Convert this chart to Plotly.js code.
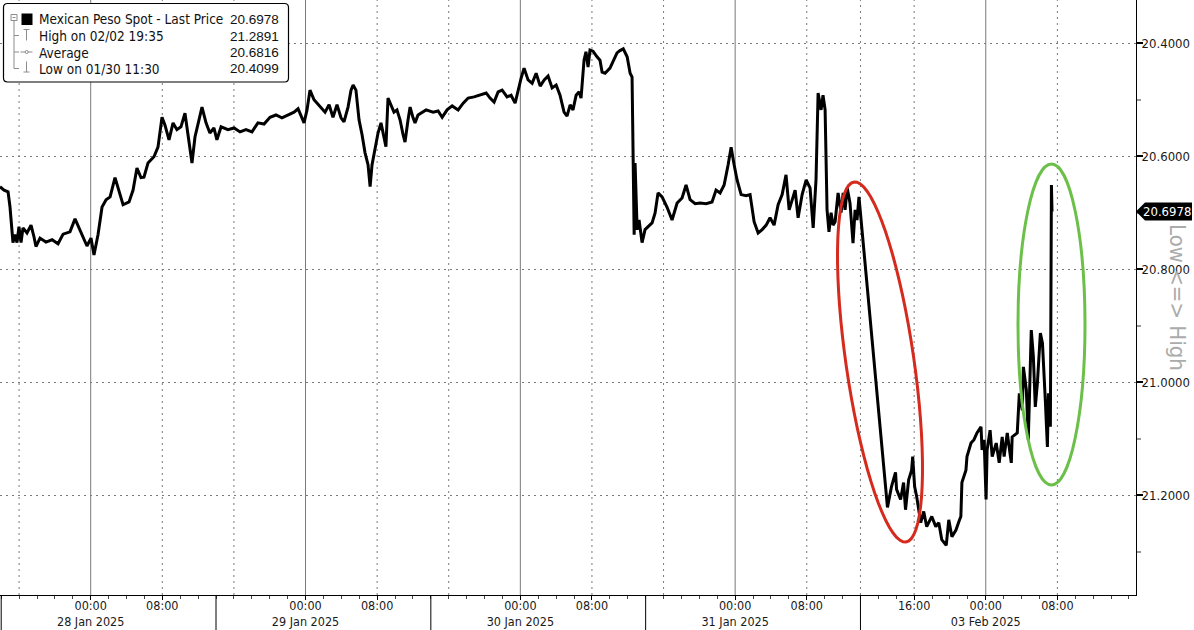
<!DOCTYPE html>
<html>
<head>
<meta charset="utf-8">
<script src="https://cdn.plot.ly/plotly-3.0.1.min.js"></script>
<style>html,body{margin:0;padding:0;background:#fff;}#chart{width:1194px;height:630px;}</style>
</head>
<body>
<div id="chart"></div>
<script>
// ---------------- DATA ----------------
const times = [
"2025-01-27 13:52","2025-01-27 14:19","2025-01-27 14:46","2025-01-27 14:59","2025-01-27 15:19","2025-01-27 15:32","2025-01-27 15:46","2025-01-27 15:59",
"2025-01-27 16:13","2025-01-27 16:26","2025-01-27 16:53","2025-01-27 17:20","2025-01-27 17:40","2025-01-27 17:53","2025-01-27 18:20","2025-01-27 19:00",
"2025-01-27 19:41","2025-01-27 20:21","2025-01-27 20:55","2025-01-27 21:41","2025-01-27 22:15","2025-01-27 22:41","2025-01-27 23:08","2025-01-27 23:35",
"2025-01-28 00:02","2025-01-28 00:22","2025-01-28 00:49","2025-01-28 01:16","2025-01-28 01:43","2025-01-28 02:10","2025-01-28 02:43","2025-01-28 03:10",
"2025-01-28 03:37","2025-01-28 04:17","2025-01-28 04:44","2025-01-28 05:10","2025-01-28 05:37","2025-01-28 05:57","2025-01-28 06:24","2025-01-28 07:04",
"2025-01-28 07:31","2025-01-28 07:58","2025-01-28 08:18","2025-01-28 08:45","2025-01-28 09:12","2025-01-28 09:38","2025-01-28 10:05","2025-01-28 10:32",
"2025-01-28 10:59","2025-01-28 11:19","2025-01-28 11:39","2025-01-28 12:06","2025-01-28 12:26","2025-01-28 12:53","2025-01-28 13:19","2025-01-28 13:46",
"2025-01-28 14:06","2025-01-28 14:34","2025-01-28 15:20","2025-01-28 16:01","2025-01-28 16:41","2025-01-28 17:21","2025-01-28 18:01","2025-01-28 18:41",
"2025-01-28 19:22","2025-01-28 20:02","2025-01-28 20:42","2025-01-28 21:22","2025-01-28 22:03","2025-01-28 22:43","2025-01-28 23:10","2025-01-28 23:50",
"2025-01-29 00:10","2025-01-29 00:30","2025-01-29 00:57","2025-01-29 01:24","2025-01-29 01:51","2025-01-29 02:11","2025-01-29 02:38","2025-01-29 03:04",
"2025-01-29 03:31","2025-01-29 03:58","2025-01-29 04:18","2025-01-29 04:45","2025-01-29 05:05","2025-01-29 05:19","2025-01-29 05:38","2025-01-29 05:59",
"2025-01-29 06:19","2025-01-29 06:39","2025-01-29 06:59","2025-01-29 07:13","2025-01-29 07:26","2025-01-29 07:46","2025-01-29 08:06","2025-01-29 08:26",
"2025-01-29 08:46","2025-01-29 08:59","2025-01-29 09:13","2025-01-29 09:33","2025-01-29 09:53","2025-01-29 10:13","2025-01-29 10:34","2025-01-29 10:54",
"2025-01-29 11:07","2025-01-29 11:27","2025-01-29 11:41","2025-01-29 12:01","2025-01-29 12:14","2025-01-29 12:34","2025-01-29 12:55","2025-01-29 13:28",
"2025-01-29 14:15","2025-01-29 14:49","2025-01-29 15:16","2025-01-29 15:49","2025-01-29 16:23","2025-01-29 17:03","2025-01-29 17:37","2025-01-29 18:10",
"2025-01-29 18:50","2025-01-29 19:31","2025-01-29 20:11","2025-01-29 20:37","2025-01-29 21:04","2025-01-29 21:31","2025-01-29 21:58","2025-01-29 22:31",
"2025-01-29 22:58","2025-01-29 23:25","2025-01-29 23:45","2025-01-30 00:05","2025-01-30 00:25","2025-01-30 00:52","2025-01-30 01:19","2025-01-30 01:46",
"2025-01-30 02:13","2025-01-30 02:40","2025-01-30 03:06","2025-01-30 03:33","2025-01-30 04:00","2025-01-30 04:26","2025-01-30 04:53","2025-01-30 05:13",
"2025-01-30 05:34","2025-01-30 05:53","2025-01-30 06:14","2025-01-30 06:34","2025-01-30 06:47","2025-01-30 07:07","2025-01-30 07:20","2025-01-30 07:34",
"2025-01-30 07:47","2025-01-30 08:07","2025-01-30 08:34","2025-01-30 08:54","2025-01-30 09:08","2025-01-30 09:28","2025-01-30 10:01","2025-01-30 10:22",
"2025-01-30 10:48","2025-01-30 11:08","2025-01-30 11:30","2025-01-30 11:56","2025-01-30 12:16","2025-01-30 12:29","2025-01-30 12:36","2025-01-30 12:43",
"2025-01-30 12:49","2025-01-30 13:03","2025-01-30 13:16","2025-01-30 13:36","2025-01-30 13:56","2025-01-30 14:23","2025-01-30 14:43","2025-01-30 15:03",
"2025-01-30 15:23","2025-01-30 15:50","2025-01-30 16:23","2025-01-30 16:57","2025-01-30 17:31","2025-01-30 18:04","2025-01-30 18:31","2025-01-30 18:58",
"2025-01-30 19:32","2025-01-30 20:05","2025-01-30 20:45","2025-01-30 21:25","2025-01-30 21:52","2025-01-30 22:19","2025-01-30 22:46","2025-01-30 23:13",
"2025-01-30 23:33","2025-01-30 23:53","2025-01-31 00:13","2025-01-31 00:40","2025-01-31 01:13","2025-01-31 01:40","2025-01-31 02:07","2025-01-31 02:34",
"2025-01-31 03:01","2025-01-31 03:28","2025-01-31 03:54","2025-01-31 04:21","2025-01-31 04:48","2025-01-31 05:15","2025-01-31 05:41","2025-01-31 06:02",
"2025-01-31 06:22","2025-01-31 06:42","2025-01-31 07:02","2025-01-31 07:29","2025-01-31 07:56","2025-01-31 08:22","2025-01-31 08:43","2025-01-31 09:02",
"2025-01-31 09:16","2025-01-31 09:36","2025-01-31 09:49","2025-01-31 10:03","2025-01-31 10:16","2025-01-31 10:29","2025-01-31 10:43","2025-01-31 10:56",
"2025-01-31 11:10","2025-01-31 11:30","2025-01-31 11:50","2025-01-31 12:04","2025-01-31 12:17","2025-01-31 12:31","2025-01-31 12:50","2025-01-31 13:04",
"2025-01-31 13:10","2025-01-31 13:24","2025-01-31 13:37","2025-01-31 13:50",
"2025-02-02 13:01","2025-02-02 13:28","2025-02-02 13:55","2025-02-02 14:02","2025-02-02 14:29","2025-02-02 14:49","2025-02-02 15:02","2025-02-02 15:23",
"2025-02-02 15:43","2025-02-02 15:50","2025-02-02 16:03","2025-02-02 16:17","2025-02-02 16:44","2025-02-02 17:04","2025-02-02 17:24","2025-02-02 17:58",
"2025-02-02 18:25","2025-02-02 18:45","2025-02-02 19:05","2025-02-02 19:35","2025-02-02 19:52","2025-02-02 20:13","2025-02-02 20:40","2025-02-02 21:00",
"2025-02-02 21:13","2025-02-02 21:20","2025-02-02 21:47","2025-02-02 21:54","2025-02-02 22:21","2025-02-02 22:41","2025-02-02 23:01","2025-02-02 23:28",
"2025-02-02 23:35","2025-02-02 23:49","2025-02-03 00:02","2025-02-03 00:09","2025-02-03 00:29","2025-02-03 00:43","2025-02-03 01:10","2025-02-03 01:30",
"2025-02-03 01:50","2025-02-03 02:03","2025-02-03 02:24","2025-02-03 02:51","2025-02-03 02:57","2025-02-03 03:31","2025-02-03 03:45","2025-02-03 04:05",
"2025-02-03 04:12","2025-02-03 04:32","2025-02-03 04:45","2025-02-03 05:05","2025-02-03 05:19","2025-02-03 05:32","2025-02-03 05:46","2025-02-03 06:06",
"2025-02-03 06:20","2025-02-03 06:40","2025-02-03 06:53","2025-02-03 07:00","2025-02-03 07:13","2025-02-03 07:20","2025-02-03 07:24"
];
const prices = [
20.654,20.660,20.663,20.690,20.753,20.739,20.753,20.725,
20.753,20.727,20.736,20.722,20.743,20.760,20.745,20.752,
20.748,20.755,20.738,20.734,20.711,20.727,20.745,20.759,
20.745,20.775,20.739,20.690,20.677,20.672,20.638,20.660,
20.686,20.681,20.660,20.621,20.638,20.637,20.612,20.601,
20.584,20.531,20.545,20.571,20.541,20.553,20.548,20.524,
20.571,20.612,20.566,20.532,20.513,20.541,20.559,20.550,
20.571,20.548,20.553,20.550,20.557,20.553,20.557,20.541,
20.543,20.531,20.527,20.532,20.527,20.522,20.516,20.541,
20.518,20.483,20.500,20.508,20.515,20.522,20.509,20.531,
20.509,20.532,20.539,20.513,20.483,20.474,20.483,20.536,
20.562,20.594,20.615,20.654,20.615,20.585,20.559,20.541,
20.571,20.583,20.497,20.509,20.522,20.518,20.536,20.562,
20.575,20.536,20.513,20.532,20.541,20.527,20.524,20.518,
20.522,20.520,20.531,20.518,20.511,20.518,20.506,20.497,
20.495,20.492,20.488,20.497,20.504,20.486,20.483,20.495,
20.492,20.506,20.483,20.462,20.444,20.465,20.471,20.453,
20.476,20.465,20.458,20.479,20.474,20.492,20.522,20.529,
20.509,20.518,20.492,20.486,20.497,20.430,20.415,20.442,
20.412,20.414,20.424,20.430,20.451,20.453,20.444,20.433,
20.417,20.413,20.4099,20.424,20.453,20.460,20.612,20.739,
20.612,20.730,20.713,20.753,20.730,20.724,20.718,20.701,
20.665,20.672,20.690,20.713,20.683,20.674,20.651,20.677,
20.684,20.683,20.684,20.681,20.660,20.665,20.651,20.615,
20.584,20.615,20.642,20.668,20.670,20.668,20.716,20.736,
20.730,20.722,20.709,20.722,20.686,20.668,20.633,20.695,
20.677,20.660,20.709,20.668,20.642,20.656,20.727,20.642,
20.488,20.518,20.492,20.518,20.695,20.734,20.700,20.722,
20.716,20.665,20.700,20.665,20.695,20.656,20.683,20.736,
20.754,20.695,20.713,20.672,
21.222,21.185,21.160,21.190,21.208,21.178,21.226,21.173,
21.156,21.132,21.185,21.203,21.249,21.229,21.256,21.238,
21.256,21.249,21.279,21.2891,21.244,21.274,21.262,21.247,
21.238,21.178,21.156,21.132,21.108,21.102,21.090,21.079,
21.120,21.102,21.208,21.120,21.085,21.132,21.108,21.143,
21.097,21.132,21.090,21.143,21.097,21.090,21.020,21.050,
20.973,21.014,21.102,20.908,20.955,21.044,21.002,20.913,
20.931,21.037,21.115,21.020,21.079,20.651,20.6978
];

const xTickVals = ["2025-01-28 00:00","2025-01-28 08:00","2025-01-29 00:00","2025-01-29 08:00","2025-01-30 00:00","2025-01-30 08:00",
                   "2025-01-31 00:00","2025-01-31 08:00","2025-02-02 16:00","2025-02-03 00:00","2025-02-03 08:00"];
const xTickText = ["00:00<br>28 Jan 2025","08:00","00:00<br>29 Jan 2025","08:00","00:00<br>30 Jan 2025","08:00",
                   "00:00<br>31 Jan 2025","08:00","16:00","00:00<br>03 Feb 2025","08:00"];
const yTickVals = [20.4, 20.6, 20.8, 21.0, 21.2];

const solidGridTimes = ["2025-01-28 00:00","2025-01-29 00:00","2025-01-30 00:00","2025-01-31 00:00","2025-02-03 00:00"];
const dottedGridTimes = ["2025-01-27 16:00","2025-01-28 08:00","2025-01-28 16:00","2025-01-29 08:00","2025-01-29 16:00",
                         "2025-01-30 08:00","2025-01-30 16:00","2025-01-31 08:00","2025-01-31 13:59:59","2025-02-02 16:00","2025-02-03 08:00"];
const sessionBreakTimes = ["2025-01-27 14:00","2025-01-28 14:00","2025-01-29 14:00","2025-01-30 14:00","2025-01-31 13:59:59"];
const weekendGap = ["2025-01-31 14:00","2025-02-02 10:00"];

const legendLabels = ["Mexican Peso Spot - Last Price","High on 02/02 19:35","Average","Low on 01/30 11:30"];
const legendValues = ["20.6978","21.2891","20.6816","20.4099"];
const lastPriceLabel = "20.6978";
const sideLabel = "Low <=> High";

// ---------------- LAYOUT HELPERS ----------------
const FONT = '"DejaVu Sans Condensed", "Liberation Sans", Arial, sans-serif';
const NUMFONT = '"Liberation Sans", Arial, sans-serif';
const M = {l:0, r:58, t:0, b:35};
const PW = 1194 - M.l - M.r, PH = 630 - M.t - M.b;
const px = x => (x - M.l) / PW;
const py = y => 1 - (y - M.t) / PH;
const YR = [21.377, 20.3234];

const shapes = [];
solidGridTimes.forEach(t => shapes.push({type:'line', xref:'x', yref:'paper', x0:t, x1:t, y0:0, y1:1, layer:'below',
  line:{color:'#7a7a7a', width:1}}));
dottedGridTimes.forEach(t => shapes.push({type:'line', xref:'x', yref:'paper', x0:t, x1:t, y0:0, y1:1, layer:'below',
  line:{color:'#7a7a7a', width:1, dash:'2px,4px'}}));
sessionBreakTimes.forEach(t => shapes.push({type:'line', xref:'x', yref:'paper', x0:t, x1:t, y0:0, y1:-0.07, layer:'above',
  line:{color:'#000', width:1}}));

// legend box (rounded)
(function(){
  const x0=3.5, y0=3.5, x1=288.5, y1=82, r=4;
  const p = `M ${px(x0+r)},${py(y0)} L ${px(x1-r)},${py(y0)} Q ${px(x1)},${py(y0)} ${px(x1)},${py(y0+r)} ` +
            `L ${px(x1)},${py(y1-r)} Q ${px(x1)},${py(y1)} ${px(x1-r)},${py(y1)} L ${px(x0+r)},${py(y1)} ` +
            `Q ${px(x0)},${py(y1)} ${px(x0)},${py(y1-r)} L ${px(x0)},${py(y0+r)} Q ${px(x0)},${py(y0)} ${px(x0+r)},${py(y0)} Z`;
  shapes.push({type:'path', xref:'paper', yref:'paper', path:p, fillcolor:'#fff', line:{color:'#000', width:1.2}, layer:'above'});
  const g = '#8c8c8c';
  const L = (xa,ya,xb,yb,c,w) => shapes.push({type:'line', xref:'paper', yref:'paper', x0:px(xa), y0:py(ya), x1:px(xb), y1:py(yb), line:{color:c||g, width:w||1}, layer:'above'});
  // tree
  shapes.push({type:'rect', xref:'paper', yref:'paper', x0:px(11), x1:px(17), y0:py(14.5), y1:py(20.5), line:{color:g, width:1}, fillcolor:'#fff', layer:'above'});
  L(12.5,17.5,15.5,17.5);
  L(14,20.5,14,68.5); L(14,35.5,19,35.5); L(14,52,19,52); L(14,68.5,19,68.5);
  shapes.push({type:'rect', xref:'paper', yref:'paper', x0:px(21.5), x1:px(32.5), y0:py(13.5), y1:py(25), line:{color:'#000', width:0}, fillcolor:'#000', layer:'above'});
  // high icon (T)
  L(23.5,29.5,29.5,29.5); L(26.5,29.5,26.5,40.5);
  // average icon
  L(20.5,52,32.5,52);
  shapes.push({type:'circle', xref:'paper', yref:'paper', x0:px(25.2), x1:px(28.2), y0:py(50.5), y1:py(53.5), line:{color:g, width:1}, fillcolor:'#fff', layer:'above'});
  // low icon
  L(26.5,61.5,26.5,72); L(23.5,72,29.5,72);
})();

// red ellipse (tilted)
(function(){
  const cx=880, cy=362, a=182, b=34;
  const ux=-52/364.0, uy=-360/364.0, vx=-uy, vy=ux;
  let p='';
  for (let i=0;i<=72;i++){
    const t = i/72*2*Math.PI;
    const x = cx + a*Math.cos(t)*ux + b*Math.sin(t)*vx;
    const y = cy + a*Math.cos(t)*uy + b*Math.sin(t)*vy;
    p += (i===0?'M ':' L ') + px(x).toFixed(5) + ',' + py(y).toFixed(5);
  }
  p += ' Z';
  shapes.push({type:'path', xref:'paper', yref:'paper', path:p, line:{color:'#d52b1e', width:3}, layer:'above'});
})();
// green ellipse
shapes.push({type:'circle', xref:'paper', yref:'paper', x0:px(1018), x1:px(1085), y0:py(485), y1:py(164),
  line:{color:'#6cc04a', width:3}, layer:'above'});

// last price marker box
const lastVal = prices[prices.length-1];
const hh = 9 / 565;
shapes.push({type:'path', xref:'paper', yref:'y',
  path:`M ${px(1136)},${lastVal} L ${px(1145)},${lastVal-hh} L ${px(1192)},${lastVal-hh} L ${px(1192)},${lastVal+hh} L ${px(1145)},${lastVal+hh} Z`,
  fillcolor:'#000', line:{color:'#000', width:0}, layer:'above'});

const annotations = [];
const rowY = [19.5, 36, 52.5, 68.8];
legendLabels.forEach((t,i) => annotations.push({xref:'paper', yref:'paper', x:px(36.5), y:py(rowY[i]), xanchor:'left', yanchor:'middle',
  text:t, showarrow:false, font:{family:FONT, size:13.5, color:'#111'}}));
legendValues.forEach((t,i) => annotations.push({xref:'paper', yref:'paper', x:px(281), y:py(rowY[i]), xanchor:'right', yanchor:'middle',
  text:t, showarrow:false, font:{family:NUMFONT, size:13.5, color:'#111'}}));
annotations.push({xref:'paper', yref:'y', x:px(1167), y:lastVal, xanchor:'center', yanchor:'middle', text:lastPriceLabel, showarrow:false,
  font:{family:FONT, size:13, color:'#fff'}});
annotations.push({xref:'paper', yref:'paper', x:px(1178), y:py(297), xanchor:'center', yanchor:'middle', text:sideLabel, textangle:90,
  showarrow:false, font:{family:FONT, size:22, color:'#ababab'}});

const trace = {type:'scatter', mode:'lines', x:times, y:prices, line:{color:'#000', width:3}, hoverinfo:'skip', showlegend:false};

const layout = {
  width:1194, height:630, margin:M, paper_bgcolor:'#fff', plot_bgcolor:'#fff', showlegend:false,
  font:{family:FONT, size:13, color:'#1a1a1a'},
  xaxis:{type:'date', range:['2025-01-27 13:52','2025-02-03 16:47'], rangebreaks:[{bounds:weekendGap}],
    tickmode:'array', tickvals:xTickVals, ticktext:xTickText, ticks:'outside', ticklen:4, tickwidth:1, tickcolor:'#000',
    ticklabelstandoff:-5,
    showgrid:false, zeroline:false, showline:true, linecolor:'#000', linewidth:1, automargin:false,
    tickfont:{family:FONT, size:12.5, color:'#1a1a1a'},
    minor:{ticks:'outside', dtick:7200000, tick0:'2025-01-28 00:00', ticklen:3, tickcolor:'#444', showgrid:false}},
  yaxis:{side:'right', range:YR, autorange:false, tickmode:'array', tickvals:yTickVals, tickformat:'.4f',
    ticks:'outside', ticklen:6, tickwidth:2, tickcolor:'#000', ticklabelstandoff:-4,
    showgrid:true, gridcolor:'#7a7a7a', griddash:'2px,4px', gridwidth:1,
    zeroline:false, showline:true, linecolor:'#000', linewidth:1, automargin:false,
    tickfont:{family:FONT, size:13, color:'#1a1a1a'},
    minor:{tickmode:'array', tickvals:[20.5,20.7,20.9,21.1,21.3], ticks:'outside', ticklen:4, tickcolor:'#999', showgrid:false}},
  shapes:shapes, annotations:annotations
};

Plotly.newPlot('chart', [trace], layout, {staticPlot:true, displayModeBar:false});
</script>
</body>
</html>
